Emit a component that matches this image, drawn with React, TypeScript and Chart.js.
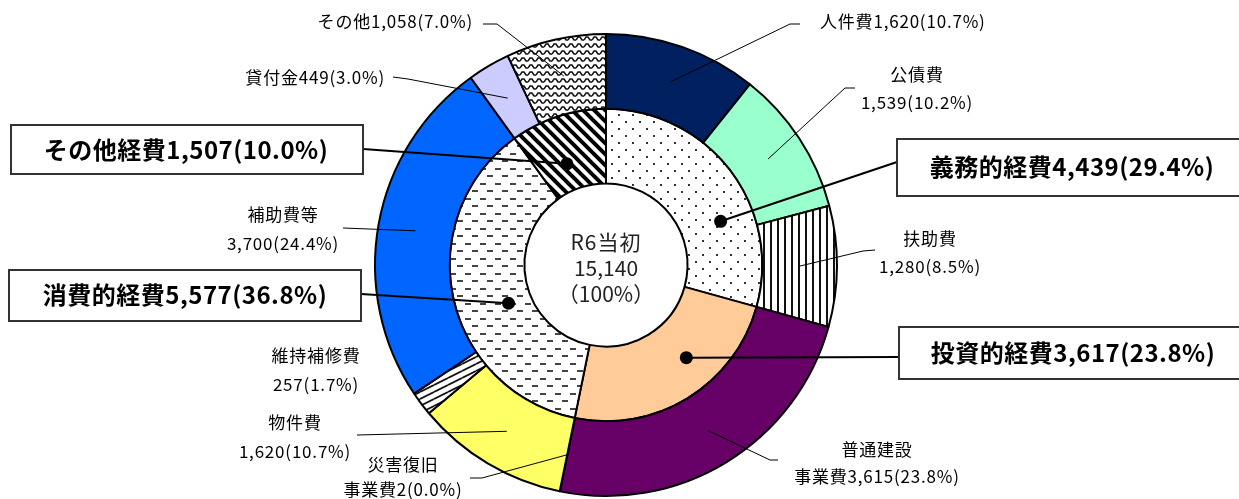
import React, { useEffect, useRef } from 'react';
import { Chart, registerables } from 'chart.js';

Chart.register(...registerables);

// ---- data ----
const outerNames = ['人件費', '公債費', '扶助費', '普通建設事業費', '災害復旧事業費', '物件費', '維持補修費', '補助費等', '貸付金', 'その他'];
const outerValues = [1620, 1539, 1280, 3615, 2, 1620, 257, 3700, 449, 1058];
const outerPercents = ['10.7', '10.2', '8.5', '23.8', '0.0', '10.7', '1.7', '24.4', '3.0', '7.0'];

const innerNames = ['義務的経費', '投資的経費', '消費的経費', 'その他経費'];
const innerValues = [4439, 3617, 5577, 1507];
const innerPercents = ['29.4', '23.8', '36.8', '10.0'];

const centerTitle = 'R6当初';
const centerTotal = 15140;
const centerPercent = '（100%）';

// ---- layout (positions / styles only) ----
type Pt = [number, number];
interface OuterLayout { x: number; y: number; align: CanvasTextAlign; split: number | null; lh: number; path: Pt[]; frac: number; rf: number; }
const outerLayout: OuterLayout[] = [
  { x: 820, y: 22, align: 'left', split: null, lh: 0, path: [[800, 24], [790, 24]], frac: 0.5, rf: 0.5 },
  { x: 917, y: 75, align: 'center', split: 3, lh: 28, path: [[855, 88], [845, 88]], frac: 0.5, rf: 0.5 },
  { x: 930, y: 239, align: 'center', split: 3, lh: 28, path: [[875, 250], [863, 251]], frac: 0.5, rf: 0.5 },
  { x: 877, y: 450, align: 'center', split: 4, lh: 27, path: [[778, 460], [770, 460]], frac: 0.5, rf: 0.5 },
  { x: 403, y: 465, align: 'center', split: 4, lh: 25, path: [[470, 478], [482, 478]], frac: 0.5, rf: 0.5 },
  { x: 295, y: 423, align: 'center', split: 3, lh: 29, path: [[357, 435]], frac: 0.5, rf: 0.5 },
  { x: 316, y: 356, align: 'center', split: 5, lh: 29, path: [], frac: 0.5, rf: 0.5 },
  { x: 283, y: 215, align: 'center', split: 4, lh: 29, path: [[343, 228]], frac: 0.5, rf: 0.5 },
  { x: 385, y: 78, align: 'right', split: null, lh: 0, path: [[393, 77], [408, 79]], frac: 0.5, rf: 0.5 },
  { x: 473, y: 22, align: 'right', split: null, lh: 0, path: [[483, 24], [497, 24]], frac: 0.5, rf: 0.5 },
];
interface BoxLayout { bx: number; by: number; bw: number; bh: number; tx: number; ty: number; start: Pt; frac: number; rf: number; }
const innerLayout: BoxLayout[] = [
  { bx: 897, by: 139, bw: 360, bh: 57, tx: 1072, ty: 167, start: [897, 162], frac: 0.655, rf: 0.55 },
  { bx: 899, by: 327, bw: 360, bh: 52, tx: 1073, ty: 353, start: [899, 357], frac: 0.39, rf: 0.55 },
  { bx: 9, by: 270, bw: 352, bh: 51, tx: 185, ty: 295, start: [361, 294], frac: 0.43, rf: 0.31 },
  { bx: 11, by: 125, bw: 352, bh: 49, tx: 186, ty: 150, start: [363, 149], frac: 0.41, rf: 0.36 },
];

const FONT = '"Noto Sans CJK JP", "Noto Sans", sans-serif';
const fmt = (v: number) => v.toLocaleString('en-US');

function makePattern(w: number, h: number, draw: (c: CanvasRenderingContext2D) => void): CanvasPattern | string {
  const cv = document.createElement('canvas');
  cv.width = w; cv.height = h;
  const c = cv.getContext('2d');
  if (!c) return '#fff';
  c.fillStyle = '#fff';
  c.fillRect(0, 0, w, h);
  draw(c);
  return c.createPattern(cv, 'repeat') || '#fff';
}

function buildFills() {
  const dots = makePattern(14, 14, (c) => { c.fillStyle = '#333'; c.fillRect(2, 2, 2, 2); c.fillRect(9, 9, 2, 2); });
  const dashes = makePattern(15, 15, (c) => { c.fillStyle = '#444'; c.fillRect(0, 3, 6, 2); c.fillRect(7, 10, 6, 2); });
  const diag = makePattern(11, 11, (c) => {
    c.strokeStyle = '#000'; c.lineWidth = 4;
    for (let k = -1; k <= 1; k++) { c.beginPath(); c.moveTo(-3, -3 + k * 11); c.lineTo(14, 14 + k * 11); c.stroke(); }
  });
  const vert = makePattern(7, 7, (c) => { c.fillStyle = '#111'; c.fillRect(0, 0, 2, 7); });
  const slant = makePattern(14, 7, (c) => {
    c.strokeStyle = '#111'; c.lineWidth = 1.8;
    for (let k = -1; k <= 1; k++) { c.beginPath(); c.moveTo(0, 7 + k * 7); c.lineTo(14, k * 7); c.stroke(); }
  });
  const wave = makePattern(8, 7, (c) => {
    c.strokeStyle = '#111'; c.lineWidth = 1.5;
    c.beginPath(); c.moveTo(0, 5); c.lineTo(2, 2); c.lineTo(4, 2); c.lineTo(6, 5); c.lineTo(8, 5); c.stroke();
  });
  const outer = ['#002060', '#99FFCC', vert, '#660066', '#FFFFFF', '#FFFF66', slant, '#0066FF', '#CCCCFF', wave];
  const inner = [dots, '#FFCC99', dashes, diag];
  return { outer, inner };
}

function arcPoint(chart: any, ds: number, i: number, frac: number, rf: number): Pt {
  const el = chart.getDatasetMeta(ds).data[i];
  const p = el.getProps(['x', 'y', 'startAngle', 'endAngle', 'innerRadius', 'outerRadius'], true);
  const a = p.startAngle + frac * (p.endAngle - p.startAngle);
  const r = p.innerRadius + rf * (p.outerRadius - p.innerRadius);
  return [p.x + Math.cos(a) * r, p.y + Math.sin(a) * r];
}

const labelPlugin = {
  id: 'labelPlugin',
  afterDraw(chart: any) {
    const ctx: CanvasRenderingContext2D = chart.ctx;
    ctx.save();
    // outer labels
    outerNames.forEach((name, i) => {
      const L = outerLayout[i];
      const valText = `${fmt(outerValues[i])}(${outerPercents[i]}%)`;
      if (L.path.length) {
        const anchor = arcPoint(chart, 0, i, L.frac, L.rf);
        ctx.strokeStyle = '#000'; ctx.lineWidth = 1;
        ctx.beginPath();
        ctx.moveTo(L.path[0][0], L.path[0][1]);
        for (let k = 1; k < L.path.length; k++) ctx.lineTo(L.path[k][0], L.path[k][1]);
        ctx.lineTo(anchor[0], anchor[1]);
        ctx.stroke();
      }
      ctx.fillStyle = '#000';
      ctx.font = `17px ${FONT}`;
      (ctx as any).letterSpacing = '0.8px';
      ctx.textAlign = L.align;
      ctx.textBaseline = 'middle';
      if (L.split === null) {
        ctx.fillText(name + valText, L.x, L.y);
      } else {
        ctx.fillText(name.slice(0, L.split), L.x, L.y);
        ctx.fillText(name.slice(L.split) + valText, L.x, L.y + L.lh);
      }
    });
    // inner labels in boxes
    innerNames.forEach((name, i) => {
      const L = innerLayout[i];
      const dot = arcPoint(chart, 1, i, L.frac, L.rf);
      ctx.strokeStyle = '#000'; ctx.lineWidth = 2;
      ctx.beginPath(); ctx.moveTo(L.start[0], L.start[1]); ctx.lineTo(dot[0], dot[1]); ctx.stroke();
      ctx.fillStyle = '#000';
      ctx.beginPath(); ctx.arc(dot[0], dot[1], 6.5, 0, Math.PI * 2); ctx.fill();
      ctx.fillStyle = '#fff';
      ctx.fillRect(L.bx, L.by, L.bw, L.bh);
      ctx.strokeStyle = '#333'; ctx.lineWidth = 2;
      ctx.strokeRect(L.bx, L.by, L.bw, L.bh);
      ctx.fillStyle = '#000';
      ctx.font = `bold 24px ${FONT}`;
      (ctx as any).letterSpacing = '0.5px';
      ctx.textAlign = 'center';
      ctx.textBaseline = 'middle';
      ctx.fillText(`${name}${fmt(innerValues[i])}(${innerPercents[i]}%)`, L.tx, L.ty);
    });
    // center text
    const c0 = chart.getDatasetMeta(1).data[0];
    const cx = c0.x, cy = c0.y;
    ctx.fillStyle = '#222';
    ctx.font = `21px ${FONT}`;
    (ctx as any).letterSpacing = '1px';
    ctx.textAlign = 'center';
    ctx.textBaseline = 'middle';
    ctx.fillText(centerTitle, cx, cy - 23);
    (ctx as any).letterSpacing = '0px';
    ctx.fillText(fmt(centerTotal), cx, cy + 3);
    ctx.fillText(centerPercent, cx, cy + 29);
    ctx.restore();
  },
};

export default function App() {
  const ref = useRef<HTMLCanvasElement>(null);
  useEffect(() => {
    const canvas = ref.current;
    if (!canvas) return;
    const fills = buildFills();
    const chart = new Chart(canvas, {
      type: 'doughnut',
      data: {
        labels: outerNames,
        datasets: [
          { data: outerValues, backgroundColor: fills.outer as any, borderColor: '#000', borderWidth: 2 },
          { data: innerValues, backgroundColor: fills.inner as any, borderColor: '#000', borderWidth: 2 },
        ],
      },
      options: {
        responsive: false,
        maintainAspectRatio: false,
        animation: false,
        devicePixelRatio: 1,
        cutout: '35.3%',
        events: [],
        layout: { padding: { left: 374, right: 401, top: 33, bottom: 2 } },
        plugins: { legend: { display: false }, tooltip: { enabled: false } },
      },
      plugins: [labelPlugin],
    });
    return () => chart.destroy();
  }, []);
  return (
    <div style={{ position: 'absolute', left: 0, top: 0, width: 1239, height: 499, background: '#fff' }}>
      <canvas ref={ref} width={1239} height={499} style={{ width: 1239, height: 499, display: 'block' }} />
    </div>
  );
}
